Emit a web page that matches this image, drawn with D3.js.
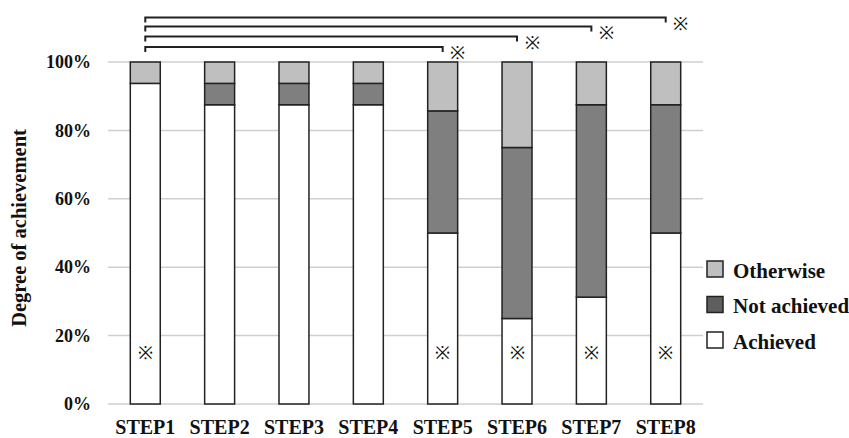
<!DOCTYPE html>
<html>
<head>
<meta charset="utf-8">
<script src="https://cdn.jsdelivr.net/npm/d3@7"></script>
<style>
  body { margin: 0; background: #fff; }
  svg text { font-family: "Liberation Serif", "Times New Roman", serif; font-weight: bold; fill: #111; }
</style>
</head>
<body>
<div id="chart"></div>
<script>
// data (percent)
const steps = ['STEP1', 'STEP2', 'STEP3', 'STEP4', 'STEP5', 'STEP6', 'STEP7', 'STEP8'];
const achieved = [93.75, 87.5, 87.5, 87.5, 50, 25, 31.25, 50];
const notAchieved = [0, 6.25, 6.25, 6.25, 35.7, 50, 56.25, 37.5];
const otherwise = [6.25, 6.25, 6.25, 6.25, 14.3, 25, 12.5, 12.5];
const yTicks = [0, 20, 40, 60, 80, 100];

// significance: comparisons against STEP1 and steps marked inside the bar
const comparisons = [['STEP1', 'STEP5'], ['STEP1', 'STEP6'], ['STEP1', 'STEP7'], ['STEP1', 'STEP8']];
const markedSteps = ['STEP1', 'STEP5', 'STEP6', 'STEP7', 'STEP8'];

const seriesKeys = ['achieved', 'notAchieved', 'otherwise'];
const seriesLabels = { achieved: 'Achieved', notAchieved: 'Not achieved', otherwise: 'Otherwise' };
const colors = { achieved: '#ffffff', notAchieved: '#7f7f7f', otherwise: '#bfbfbf' };
const legendColors = { achieved: '#ffffff', notAchieved: '#5e5e5e', otherwise: '#bfbfbf' };

const rows = steps.map((s, i) => ({
  step: s, achieved: achieved[i], notAchieved: notAchieved[i], otherwise: otherwise[i]
}));

const width = 849, height = 438;
const margin = { top: 62, right: 146, bottom: 34, left: 108 };
const innerW = width - margin.left - margin.right;
const innerH = height - margin.top - margin.bottom;

const svg = d3.select('#chart').append('svg')
  .attr('width', width)
  .attr('height', height);

const chart = svg.append('g')
  .attr('transform', `translate(${margin.left},${margin.top})`);

const x = d3.scaleBand()
  .domain(steps)
  .range([0, innerW])
  .paddingInner(0.597)
  .paddingOuter(0.3);

const y = d3.scaleLinear()
  .domain([0, 100])
  .range([innerH, 0]);

// gridlines
chart.selectAll('.grid')
  .data(yTicks)
  .enter().append('line')
  .attr('class', 'grid')
  .attr('x1', 0)
  .attr('x2', innerW)
  .attr('y1', d => y(d))
  .attr('y2', d => y(d))
  .attr('stroke', '#cfcfcf')
  .attr('stroke-width', 1.5);

// y axis (labels only)
const yAxis = chart.append('g')
  .call(d3.axisLeft(y).tickValues(yTicks).tickFormat(d => d + '%').tickSize(0).tickPadding(17));
yAxis.select('.domain').remove();
yAxis.selectAll('text').attr('font-size', 18).style('font-family', '"Liberation Serif", serif');

// x axis (labels only)
const xAxis = chart.append('g')
  .attr('transform', `translate(0,${innerH})`)
  .call(d3.axisBottom(x).tickSize(0).tickPadding(16));
xAxis.select('.domain').remove();
xAxis.selectAll('text').attr('font-size', 20).style('font-family', '"Liberation Serif", serif');

// stacked bars
const stacked = d3.stack().keys(seriesKeys)(rows);

chart.selectAll('.series')
  .data(stacked)
  .enter().append('g')
  .attr('class', 'series')
  .attr('fill', d => colors[d.key])
  .selectAll('rect')
  .data(d => d.filter(p => p[1] - p[0] > 0))
  .enter().append('rect')
  .attr('x', d => x(d.data.step))
  .attr('width', x.bandwidth())
  .attr('y', d => y(d[1]))
  .attr('height', d => y(d[0]) - y(d[1]))
  .attr('stroke', '#222')
  .attr('stroke-width', 1.5);

// marks inside bars
chart.selectAll('.mark')
  .data(markedSteps)
  .enter().append('text')
  .attr('class', 'mark')
  .attr('x', d => x(d) + x.bandwidth() / 2)
  .attr('y', y(15))
  .attr('text-anchor', 'middle')
  .attr('dominant-baseline', 'central')
  .attr('font-size', 18)
  .style('font-weight', 'normal')
  .text('※');

// significance brackets
const bracketY = [-15, -25.5, -35.5, -44.5];
comparisons.forEach((c, i) => {
  const x1 = margin.left + x(c[0]) + x.bandwidth() / 2;
  const x2 = margin.left + x(c[1]) + x.bandwidth() / 2;
  const yy = margin.top + bracketY[i];
  svg.append('path')
    .attr('d', `M${x1},${yy + 5}V${yy}H${x2}V${yy + 5}`)
    .attr('fill', 'none')
    .attr('stroke', '#222')
    .attr('stroke-width', 2);
  svg.append('text')
    .attr('x', x2 + 15)
    .attr('y', yy + 6)
    .attr('text-anchor', 'middle')
    .attr('dominant-baseline', 'central')
    .attr('font-size', 18)
    .style('font-weight', 'normal')
    .text('※');
});

// y axis title
svg.append('text')
  .attr('transform', `translate(26,228) rotate(-90)`)
  .attr('text-anchor', 'middle')
  .attr('font-size', 20.5)
  .text('Degree of achievement');

// legend
const legendKeys = ['otherwise', 'notAchieved', 'achieved'];
const legend = svg.append('g')
  .attr('transform', 'translate(707,261)');

legendKeys.forEach((k, i) => {
  const g = legend.append('g').attr('transform', `translate(0,${i * 35.5})`);
  g.append('rect')
    .attr('width', 16)
    .attr('height', 16)
    .attr('fill', legendColors[k])
    .attr('stroke', '#222')
    .attr('stroke-width', 1.5);
  g.append('text')
    .attr('x', 26)
    .attr('y', 16.5)
    .attr('font-size', 21)
    .text(seriesLabels[k]);
});
</script>
</body>
</html>
